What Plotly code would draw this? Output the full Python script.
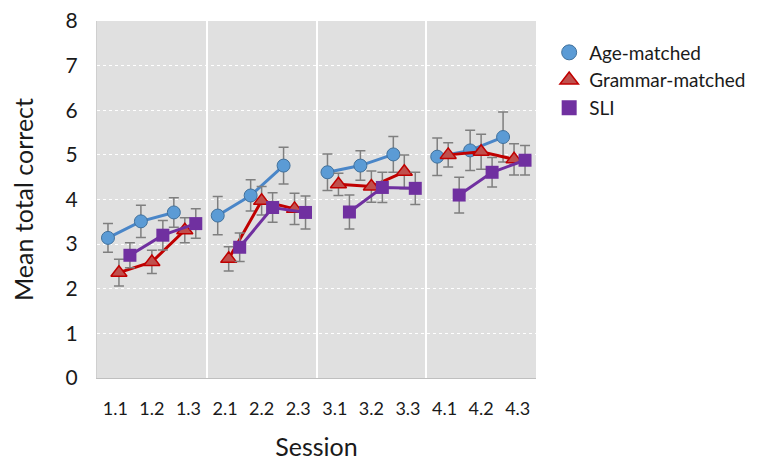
import plotly.graph_objects as go

sessions = ["1.1", "1.2", "1.3", "2.1", "2.2", "2.3", "3.1", "3.2", "3.3", "4.1", "4.2", "4.3"]

age_mean = [3.14, 3.51, 3.71, 3.64, 4.09, 4.76, 4.61, 4.76, 5.01, 4.96, 5.10, 5.40]
age_err = [0.32, 0.36, 0.33, 0.43, 0.35, 0.41, 0.41, 0.33, 0.40, 0.42, 0.45, 0.56]

gram_mean = [2.36, 2.60, 3.31, 2.67, 3.97, 3.79, 4.34, 4.29, 4.62, 5.00, 5.07, 4.90]
gram_err = [0.30, 0.26, 0.28, 0.27, 0.32, 0.35, 0.25, 0.35, 0.38, 0.27, 0.39, 0.35]

sli_mean = [2.75, 3.20, 3.46, 2.93, 3.82, 3.71, 3.72, 4.27, 4.25, 4.10, 4.61, 4.88]
sli_err = [0.28, 0.33, 0.33, 0.32, 0.33, 0.37, 0.38, 0.34, 0.36, 0.40, 0.33, 0.33]

y_ticks = [0, 1, 2, 3, 4, 5, 6, 7, 8]

FONT = "Lato"
SPREAD = 0.9  # within-session spacing (category units)

series = [
    dict(name="Age-matched", y=age_mean, e=age_err, off=-0.3, symbol="circle",
         fill="#5b9bd5", edge="#41719c", ew=1, line="#4a86c8", size=13),
    dict(name="Grammar-matched", y=gram_mean, e=gram_err, off=0.0, symbol="triangle-up",
         fill="#c0504d", edge="#c00000", ew=1.5, line="#c00000", size=14),
    dict(name="SLI", y=sli_mean, e=sli_err, off=0.3, symbol="square",
         fill="#7030a0", edge="#7030a0", ew=0, line="#7030a0", size=13),
]


def positions(off):
    xs = []
    for i in range(len(sessions)):
        s, j = divmod(i, 3)
        xs.append(3 * s + 1 + (j - 1) * SPREAD + off)
    return xs


fig = go.Figure()
for sr in series:
    xs = positions(sr["off"])
    X, Y, E = [], [], []
    for i in range(len(sessions)):
        X.append(xs[i]); Y.append(sr["y"][i]); E.append(sr["e"][i])
        if i % 3 == 2 and i != len(sessions) - 1:
            X.append(None); Y.append(None); E.append(None)
    fig.add_trace(go.Scatter(
        x=X, y=Y, mode="lines+markers", showlegend=False, connectgaps=False,
        line=dict(color=sr["line"], width=3),
        marker=dict(symbol=sr["symbol"], size=sr["size"], color=sr["fill"],
                    line=dict(color=sr["edge"], width=sr["ew"])),
        error_y=dict(type="data", array=E, visible=True, color="#7f7f7f",
                     thickness=1.5, width=5),
    ))

for sr in series:
    fig.add_trace(go.Scatter(
        x=[None], y=[None], mode="markers", name=sr["name"],
        marker=dict(symbol=sr["symbol"], size=sr["size"] + 2, color=sr["fill"],
                    line=dict(color=sr["edge"], width=sr["ew"])),
    ))

fig.update_layout(
    width=765, height=458,
    margin=dict(l=89, r=237, t=13, b=88),
    paper_bgcolor="white",
    plot_bgcolor="#e0e0e0",
    font=dict(family=FONT, color="#1a1a1a"),
    legend=dict(x=1.03, y=0.965, xanchor="left", yanchor="top",
                font=dict(family=FONT, size=19, color="#1a1a1a"),
                bgcolor="rgba(0,0,0,0)", tracegroupgap=0, itemwidth=30),
    xaxis=dict(
        automargin=False,
        range=[-0.5, 11.5],
        tickmode="array", tickvals=list(range(len(sessions))), ticktext=sessions,
        showgrid=False, zeroline=False,
        showline=True, linecolor="#bfbfbf", linewidth=1,
        ticks="outside", ticklen=14, tickcolor="rgba(0,0,0,0)",
        tickfont=dict(family=FONT, size=18, color="#1a1a1a"),
        minor=dict(tickmode="array", tickvals=[2.5, 5.5, 8.5], showgrid=True,
                   gridcolor="white", gridwidth=1.5, ticks=""),
        title=dict(text="Session", font=dict(family=FONT, size=25, color="#1a1a1a"),
                   standoff=20),
    ),
    yaxis=dict(
        automargin=False,
        range=[0, 8],
        tickmode="array", tickvals=y_ticks,
        ticklabeloverflow="allow",
        showgrid=True, gridcolor="white", griddash="dot", gridwidth=1,
        zeroline=False,
        showline=True, linecolor="#cfcfcf", linewidth=1,
        ticks="outside", ticklen=14, tickcolor="rgba(0,0,0,0)",
        tickfont=dict(family=FONT, size=21, color="#1a1a1a"),
        title=dict(text="Mean total correct", font=dict(family=FONT, size=25, color="#1a1a1a"),
                   standoff=24),
    ),
)

fig.write_html("out.html")
